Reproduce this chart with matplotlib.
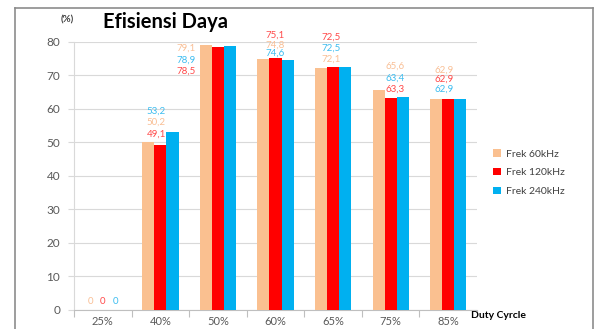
import matplotlib
matplotlib.use("Agg")
import matplotlib.pyplot as plt
from matplotlib.lines import Line2D
import numpy as np

plt.rcParams['font.family'] = ['Lato', 'DejaVu Sans']

# data
duty = ['25%', '40%', '50%', '60%', '65%', '75%', '85%']
frek_60 = [0, 50.2, 79.1, 74.8, 72.1, 65.6, 62.9]
frek_120 = [0, 49.1, 78.5, 75.1, 72.5, 63.3, 62.9]
frek_240 = [0, 53.2, 78.9, 74.6, 72.5, 63.4, 62.9]
series_names = ['Frek 60kHz', 'Frek 120kHz', 'Frek 240kHz']

# where the value labels sit (in data units, as placed in the original sheet)
lbl_y_60 = [2.5, 56.0, 78.0, 79.0, 74.9, 72.6, 71.6]
lbl_y_120 = [2.5, 52.5, 71.3, 82.1, 81.4, 65.9, 68.9]
lbl_y_240 = [2.5, 59.4, 74.6, 76.6, 78.1, 69.3, 65.9]
lbl_dx = [0, -0.07, -0.38, 0.0, -0.04, 0.07, -0.07]

bar_colors = ['#FAC090', '#FF0000', '#00B0F0']
text_colors = ['#F9BF95', '#FF4A4A', '#3DBDF0']

fig = plt.figure(figsize=(5.94, 3.29), dpi=100)
ax = fig.add_axes([0.1246, 0.0578, 0.6785, 0.815])

x = np.arange(len(duty))
w = 0.21
all_vals = [frek_60, frek_120, frek_240]
for i, vals in enumerate(all_vals):
    ax.bar(x + (i - 1) * w, vals, width=w, color=bar_colors[i],
           label=series_names[i], zorder=3)

def fmt(v):
    if v == 0:
        return '0'
    return ('%.1f' % v).replace('.', ',')

lbl_ys = [lbl_y_60, lbl_y_120, lbl_y_240]
for j in range(len(duty)):
    for i in range(3):
        if j == 0:
            ax.text(x[j] + (i - 1) * 0.22, lbl_ys[i][j], fmt(all_vals[i][j]),
                    ha='center', va='center', fontsize=7, color=text_colors[i])
        elif j == 2:
            ax.text(x[j] + lbl_dx[j], lbl_ys[i][j], fmt(all_vals[i][j]),
                    ha='right', va='center', fontsize=7, color=text_colors[i])
        else:
            ax.text(x[j] + lbl_dx[j], lbl_ys[i][j], fmt(all_vals[i][j]),
                    ha='center', va='center', fontsize=7, color=text_colors[i])

ax.set_xlim(-0.5, len(duty) - 0.5)
ax.set_ylim(0, 80)
ax.set_yticks(range(0, 81, 10))
ax.set_xticks(x)
ax.set_xticklabels(duty)
ax.set_xticks(np.arange(-0.5, len(duty), 1), minor=True)
ax.tick_params(axis='x', which='major', length=0, pad=4.5, labelsize=8, labelcolor='#595959')
ax.tick_params(axis='x', which='minor', length=5, color='#bfbfbf', width=0.8)
ax.tick_params(axis='y', length=4, color='#d9d9d9', width=0.8, labelsize=8.5,
               labelcolor='#595959', pad=6)
ax.grid(axis='y', color='#d9d9d9', lw=0.8, zorder=0)
for s in ['top', 'right']:
    ax.spines[s].set_visible(False)
ax.spines['left'].set_color('#d9d9d9')
ax.spines['bottom'].set_color('#bfbfbf')
ax.spines['left'].set_linewidth(0.8)
ax.spines['bottom'].set_linewidth(0.8)

fig.legend(loc='center left', bbox_to_anchor=(0.815, 0.475), frameon=False,
           fontsize=7.5, handlelength=0.7, handleheight=0.7, handletextpad=0.5,
           labelspacing=0.9, labelcolor='#404040')

fig.text(0.278, 0.933, 'Efisiensi Daya', fontsize=14.5, fontweight='bold',
         ha='center', va='center', color='black')
fig.text(0.113, 0.94, '(%)', fontsize=7, fontweight='bold', ha='center',
         va='center', color='#404040')
fig.text(0.793, 0.04, 'Duty Cyrcle', fontsize=7.5, fontweight='bold',
         ha='left', va='center', color='black')

# outer chart frame
fx0, fx1, fy1 = 15 / 594, 592.7 / 594, 1 - 8.3 / 329
for xs, ys in [([fx0, fx0], [0, fy1]), ([fx0, fx1], [fy1, fy1]), ([fx1, fx1], [fy1, 0])]:
    fig.add_artist(Line2D(xs, ys, transform=fig.transFigure, color='#8c8c8c', lw=1.2))

fig.savefig('out.png', dpi=100)
